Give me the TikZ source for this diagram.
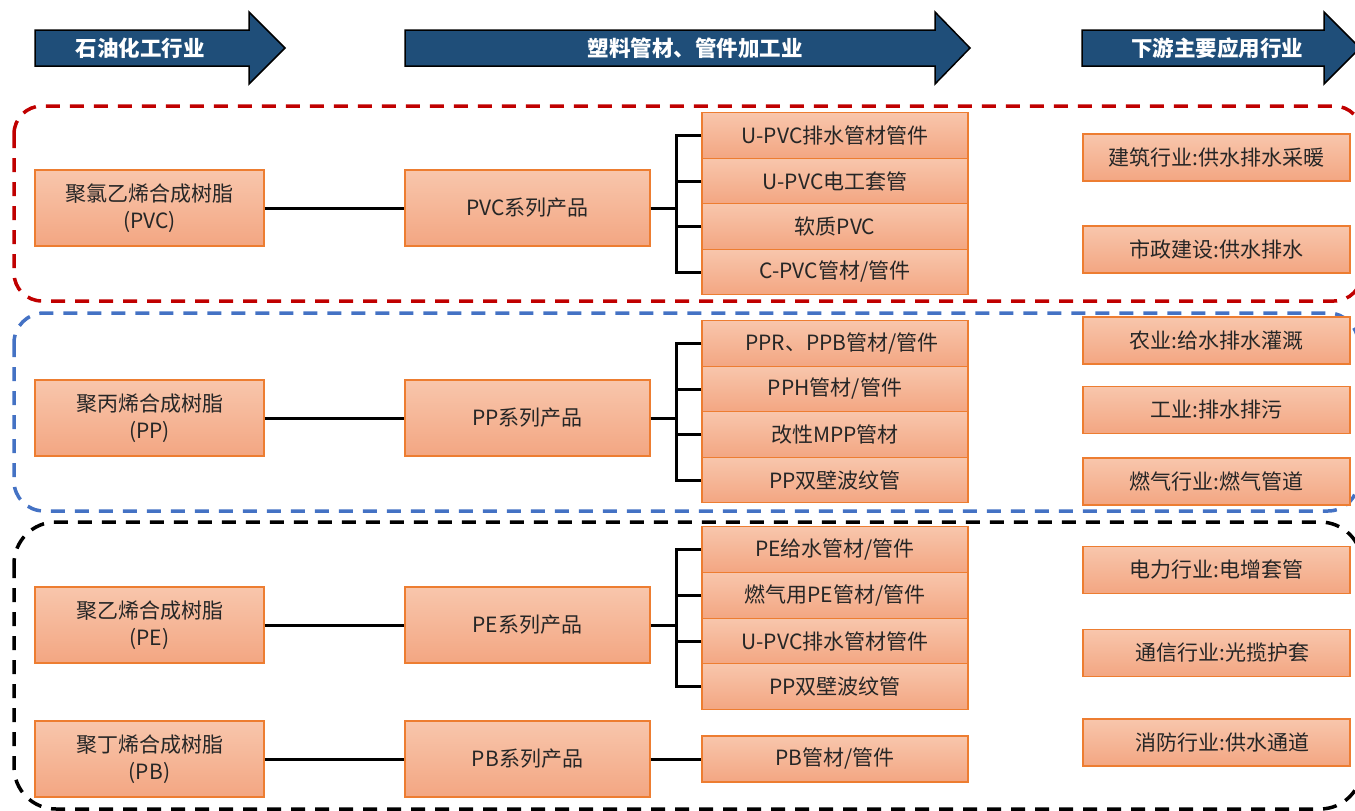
\documentclass[tikz,border=0pt]{standalone}
\usepackage{fontspec}
\setmainfont{Noto Sans CJK SC}
\definecolor{hdr}{RGB}{31,78,121}
\definecolor{boxtop}{RGB}{248,198,172}
\definecolor{boxbot}{RGB}{243,166,130}
\definecolor{boxline}{RGB}{237,125,49}
\definecolor{dred}{RGB}{192,0,0}
\definecolor{dblue}{RGB}{68,114,196}
\tikzset{
  hdrarrow/.style={fill=hdr,draw=black,line width=1.5pt,line join=miter},
  hdrtext/.style={text=white,font=\bfseries\fontsize{21.5}{24}\selectfont,inner sep=0pt},
  obox/.style={rectangle,draw=boxline,line width=1.1pt,top color=boxtop,bottom color=boxbot,
     inner sep=0pt,align=center,text=black!85,font=\fontsize{21}{27}\selectfont},
  resin/.style={obox,minimum width=229pt,minimum height=76pt},
  series/.style={obox,minimum width=245pt,minimum height=76pt},
  prod/.style={obox,minimum width=266pt,minimum height=45.5pt},
  app/.style={obox,minimum width=267pt,minimum height=47pt},
  conn/.style={draw=black,line width=3pt},
  grp/.style={line width=3.5pt,dash pattern=on 14pt off 10pt},
}
\begin{document}
\begin{tikzpicture}[x=1pt,y=-1pt]
\useasboundingbox (0,0) rectangle (1355,811);
% header arrows
\draw[hdrarrow] (35,30) -- (249,30) -- (249,12) -- (285,48) -- (249,84) -- (249,66) -- (35,66) -- cycle;
\node[hdrtext] (h1) at (140,48) {石油化工行业};
\draw[hdrarrow] (405,30) -- (935,30) -- (935,12) -- (970,48) -- (935,84) -- (935,66) -- (405,66) -- cycle;
\node[hdrtext] (h2) at (695,48) {塑料管材、管件加工业};
\draw[hdrarrow] (1082,30) -- (1324,30) -- (1324,12) -- (1360,48) -- (1324,84) -- (1324,66) -- (1082,66) -- cycle;
\node[hdrtext] (h3) at (1217,48) {下游主要应用行业};
% dashed groups
\draw[grp,draw=dred,rounded corners=28pt] (14,106) rectangle (1362,301);
\draw[grp,draw=dblue,rounded corners=30pt] (14,313) rectangle (1358,511);
\draw[grp,draw=black,rounded corners=42pt] (14,522) rectangle (1362,809);
% resin boxes
\node[resin] (rpvc) at (149.5,208) {聚氯乙烯合成树脂\\(PVC)};
\node[resin] (rpp) at (149.5,418) {聚丙烯合成树脂\\(PP)};
\node[resin] (rpe) at (149.5,625) {聚乙烯合成树脂\\(PE)};
\node[resin] (rpb) at (149.5,759) {聚丁烯合成树脂\\(PB)};
% series boxes
\node[series] (spvc) at (527.5,208) {PVC系列产品};
\node[series] (spp) at (527.5,418) {PP系列产品};
\node[series] (spe) at (527.5,625) {PE系列产品};
\node[series] (spb) at (527.5,759) {PB系列产品};
% PVC products
\node[prod] (a1) at (835,135.5) {U-PVC排水管材管件};
\node[prod] (a2) at (835,181) {U-PVC电工套管};
\node[prod] (a3) at (835,226.5) {软质PVC};
\node[prod] (a4) at (835,272) {C-PVC管材/管件};
% PP products
\node[prod] (b1) at (835,343.5) {\hspace{14pt}PPR、PPB管材/管件};
\node[prod] (b2) at (835,389) {PPH管材/管件};
\node[prod] (b3) at (835,434.5) {改性MPP管材};
\node[prod] (b4) at (835,480) {PP双壁波纹管};
% PE products
\node[prod] (c1) at (835,549.5) {PE给水管材/管件};
\node[prod] (c2) at (835,595.5) {燃气用PE管材/管件};
\node[prod] (c3) at (835,641.5) {U-PVC排水管材管件};
\node[prod] (c4) at (835,686.5) {PP双壁波纹管};
% PB product
\node[prod,minimum height=46pt] (d1) at (835,759) {PB管材/管件};
% applications
\node[app] (e1) at (1216.5,157.5) {建筑行业:供水排水采暖};
\node[app] (e2) at (1216.5,249.5) {市政建设:供水排水};
\node[app] (e3) at (1216.5,340.5) {农业:给水排水灌溉};
\node[app] (e4) at (1216.5,410) {工业:排水排污};
\node[app] (e5) at (1216.5,481.5) {燃气行业:燃气管道};
\node[app] (e6) at (1216.5,570) {电力行业:电增套管};
\node[app] (e7) at (1216.5,653) {\hspace{12pt}通信行业:光揽护套};
\node[app] (e8) at (1216.5,742.5) {\hspace{12pt}消防行业:供水通道};
% connectors resin -> series
\draw[conn] (rpvc.east) -- (spvc.west);
\draw[conn] (rpp.east) -- (spp.west);
\draw[conn] (rpe.east) -- (spe.west);
\draw[conn] (rpb.east) -- (spb.west);
\draw[conn] (spb.east) -- (d1.west);
% brackets
\coordinate (ka) at (676,208);
\coordinate (kb) at (676,418);
\coordinate (kc) at (676,625);
\draw[conn] (spvc.east) -- (ka);
\draw[conn] (a1.west) -| (ka) |- (a4.west);
\draw[conn] (a2.west) -- (a2.west -| ka);
\draw[conn] (a3.west) -- (a3.west -| ka);
\draw[conn] (spp.east) -- (kb);
\draw[conn] (b1.west) -| (kb) |- (b4.west);
\draw[conn] (b2.west) -- (b2.west -| kb);
\draw[conn] (b3.west) -- (b3.west -| kb);
\draw[conn] (spe.east) -- (kc);
\draw[conn] (c1.west) -| (kc) |- (c4.west);
\draw[conn] (c2.west) -- (c2.west -| kc);
\draw[conn] (c3.west) -- (c3.west -| kc);
\end{tikzpicture}
\end{document}
